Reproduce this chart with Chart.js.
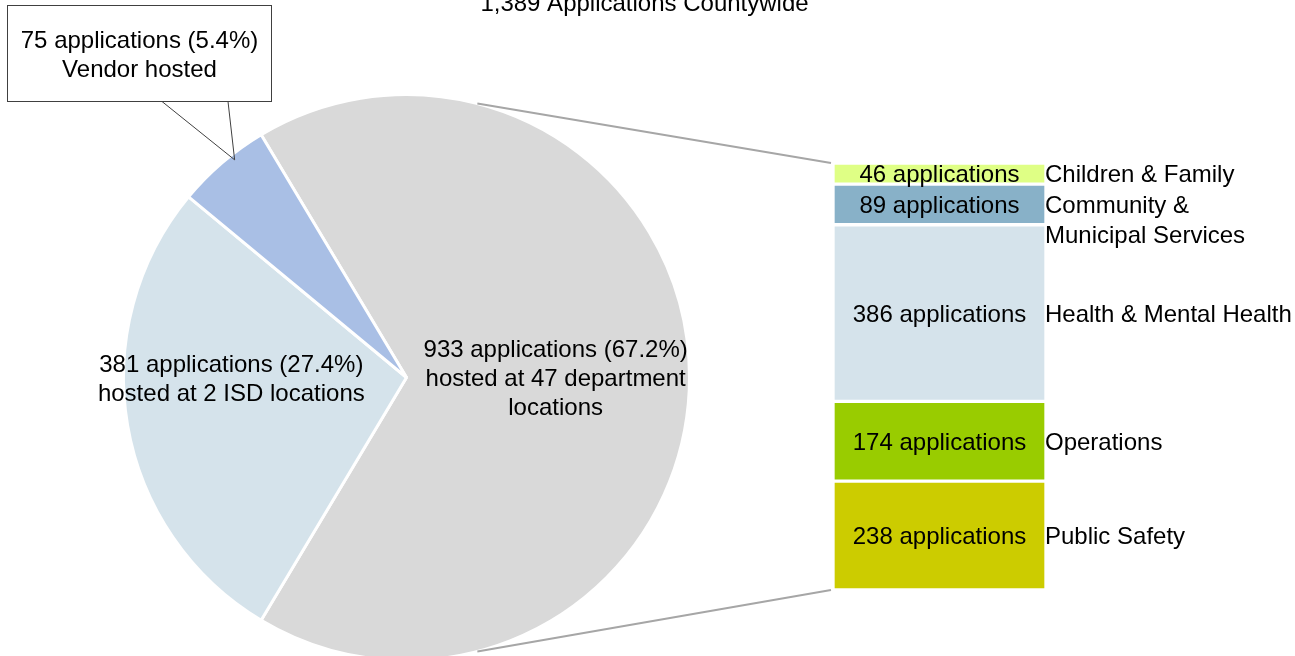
<!DOCTYPE html>
<html>
<head>
<meta charset="utf-8">
<script src="https://cdn.jsdelivr.net/npm/chart.js"></script>
<style>
  html, body { margin: 0; padding: 0; background: #fff; }
  #wrap { position: relative; width: 1295px; height: 656px; overflow: hidden; }
  .layer { position: absolute; left: 0; top: 0; width: 1295px; }
</style>
</head>
<body>
<div id="wrap">
  <div class="layer" style="height:702px"><canvas id="pieChart"></canvas></div>
  <div class="layer" style="height:656px"><canvas id="barChart"></canvas></div>
</div>
<script>
const chartTitle = '1,389 Applications Countywide';

// pie: where the applications are hosted
const hostCounts = [933, 381, 75];
const hostLines = [
  ['hosted at 47 department', 'locations'],
  ['hosted at 2 ISD locations'],
  ['Vendor hosted']
];
const hostColors = ['#D9D9D9', '#D5E3EB', '#A9BFE5'];

// bar: the 933 department-hosted applications split by cluster
const deptNames = [
  ['Children & Family'],
  ['Community &', 'Municipal Services'],
  ['Health & Mental Health'],
  ['Operations'],
  ['Public Safety']
];
const deptCounts = [46, 89, 386, 174, 238];
const deptColors = ['#DFFF85', '#88B1C8', '#D5E3EB', '#99CC00', '#CCCC00'];

const FONT = '24px "Liberation Sans", Arial, sans-serif';
const LINE = 29;
const DY = 2; // small nudge so the text sits like the original
const hostTotal = hostCounts.reduce((a, b) => a + b, 0);
const deptTotal = deptCounts.reduce((a, b) => a + b, 0);
const pct = i => (hostCounts[i] / hostTotal * 100).toFixed(1) + '%';

// label distance from the centre, as part of the radius
const labelRadius = [0.527, 0.628];
const connectorAngle = 14.5; // degrees either side of the top/bottom of the pie

const pieLabels = {
  id: 'pieLabels',
  afterDatasetsDraw(chart) {
    const meta = chart.getDatasetMeta(0);
    const ctx = chart.ctx;
    ctx.save();
    ctx.font = FONT;
    ctx.fillStyle = '#000';
    ctx.textAlign = 'center';
    ctx.textBaseline = 'middle';
    [0, 1].forEach(i => {
      const arc = meta.data[i];
      const mid = (arc.startAngle + arc.endAngle) / 2;
      const x = arc.x + Math.cos(mid) * arc.outerRadius * labelRadius[i];
      const lines = [hostCounts[i] + ' applications (' + pct(i) + ')'].concat(hostLines[i]);
      const y0 = arc.y + DY - (lines.length - 1) * LINE / 2;
      lines.forEach((t, k) => ctx.fillText(t, x, y0 + k * LINE));
    });

    // callout for the small vendor slice
    const arc = meta.data[2];
    const ang = arc.startAngle + (arc.endAngle - arc.startAngle) * 0.62;
    const tipX = arc.x + Math.cos(ang) * arc.outerRadius * 0.98;
    const tipY = arc.y + Math.sin(ang) * arc.outerRadius * 0.98;
    const box = { x: 7.5, y: 5.5, w: 264, h: 96 };
    ctx.fillStyle = '#fff';
    ctx.fillRect(box.x, box.y, box.w, box.h);
    ctx.strokeStyle = '#404040';
    ctx.lineWidth = 1;
    ctx.strokeRect(box.x, box.y, box.w, box.h);
    ctx.beginPath();
    ctx.moveTo(162, box.y + box.h);
    ctx.lineTo(tipX, tipY);
    ctx.lineTo(228, box.y + box.h);
    ctx.stroke();
    ctx.fillStyle = '#000';
    const cl = [hostCounts[2] + ' applications (' + pct(2) + ')'].concat(hostLines[2]);
    const cy = box.y + box.h / 2 + DY - (cl.length - 1) * LINE / 2;
    cl.forEach((t, k) => ctx.fillText(t, box.x + box.w / 2, cy + k * LINE));
    ctx.restore();
  }
};

const pieChart = new Chart(document.getElementById('pieChart'), {
  type: 'pie',
  data: {
    labels: hostLines.map(l => l.join(' ')),
    datasets: [{
      data: hostCounts,
      backgroundColor: hostColors,
      borderColor: '#fff',
      borderWidth: 3
    }]
  },
  options: {
    responsive: true,
    maintainAspectRatio: false,
    animation: false,
    rotation: 90 - (360 * hostCounts[0] / hostTotal) / 2,
    layout: { padding: { left: 122, right: 604, top: 93, bottom: 40 } },
    plugins: { legend: { display: false }, tooltip: { enabled: false } }
  },
  plugins: [pieLabels]
});

const barLabels = {
  id: 'barLabels',
  afterDatasetsDraw(chart) {
    const ctx = chart.ctx;
    ctx.save();
    ctx.font = FONT;
    ctx.fillStyle = '#000';
    ctx.textBaseline = 'middle';
    chart.data.datasets.forEach((ds, i) => {
      const el = chart.getDatasetMeta(i).data[0];
      const cy = (el.y + el.base) / 2 + DY;
      ctx.textAlign = 'center';
      ctx.fillText(deptCounts[i] + ' applications', el.x, cy);
      ctx.textAlign = 'left';
      deptNames[i].forEach((t, k) => ctx.fillText(t, el.x + el.width / 2 - 1, cy + k * 30));
    });
    ctx.restore();
  }
};

const connectors = {
  id: 'connectors',
  beforeDatasetsDraw(chart) {
    const arc = pieChart.getDatasetMeta(0).data[0];
    const a = (90 - connectorAngle) * Math.PI / 180;
    const ca = chart.chartArea;
    const ctx = chart.ctx;
    ctx.save();
    ctx.strokeStyle = '#A6A6A6';
    ctx.lineWidth = 2;
    ctx.beginPath();
    ctx.moveTo(arc.x + Math.cos(-a) * arc.outerRadius, arc.y + Math.sin(-a) * arc.outerRadius);
    ctx.lineTo(ca.left - 2, ca.top);
    ctx.moveTo(arc.x + Math.cos(a) * arc.outerRadius, arc.y + Math.sin(a) * arc.outerRadius);
    ctx.lineTo(ca.left - 2, ca.bottom);
    ctx.stroke();

    ctx.font = FONT;
    ctx.fillStyle = '#000';
    ctx.textAlign = 'center';
    ctx.textBaseline = 'alphabetic';
    ctx.fillText(chartTitle, chart.width / 2 - 3, 11);
    ctx.restore();
  }
};

const barChart = new Chart(document.getElementById('barChart'), {
  type: 'bar',
  data: {
    labels: [''],
    datasets: deptNames.map((n, i) => ({
      label: n.join(' '),
      data: [deptCounts[i]],
      backgroundColor: deptColors[i],
      borderColor: '#fff',
      borderWidth: 2,
      borderSkipped: false,
      barPercentage: 1,
      categoryPercentage: 1
    }))
  },
  options: {
    responsive: true,
    maintainAspectRatio: false,
    animation: false,
    layout: { padding: { left: 833, right: 249, top: 163, bottom: 66 } },
    scales: {
      x: { display: false, stacked: true },
      y: { display: false, stacked: true, reverse: true, min: 0, max: deptTotal }
    },
    plugins: { legend: { display: false }, tooltip: { enabled: false } }
  },
  plugins: [connectors, barLabels]
});
</script>
</body>
</html>
